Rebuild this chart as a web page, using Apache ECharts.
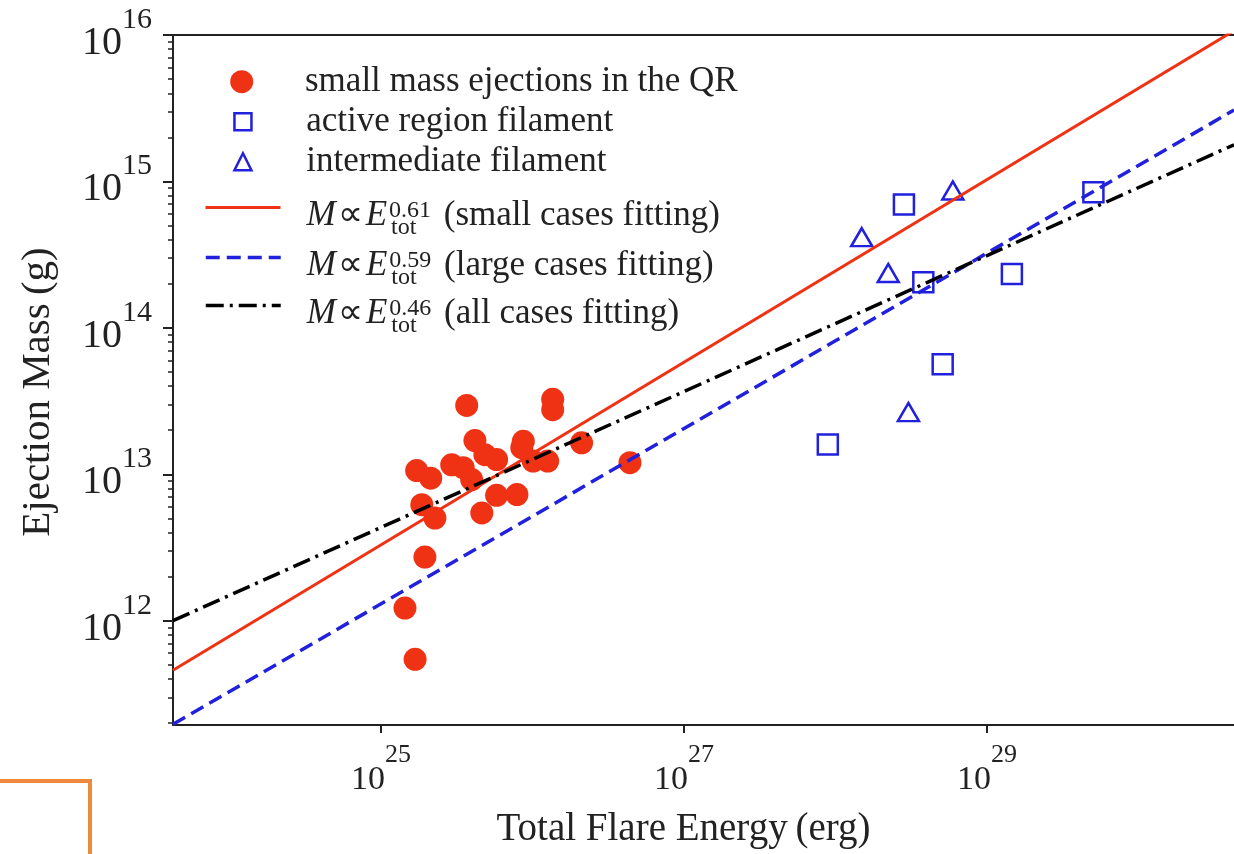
<!DOCTYPE html>
<html>
<head>
<meta charset="utf-8">
<title>Ejection mass vs total flare energy</title>
<script src="https://cdn.jsdelivr.net/npm/echarts@6/dist/echarts.min.js"></script>
<style>
  html, body { margin: 0; padding: 0; background: #fff; }
  #main { width: 1234px; height: 854px; }
</style>
</head>
<body>
<div id="main"></div>
<script>
const SERIF = "'Liberation Serif', 'Times New Roman', serif";
const RED = '#f03214';
const BLUE = '#2020dd';
const INK = '#222';

// small mass ejections in the quiet region: energy (erg), mass (g)
const smallEnergy = [1.72e25, 2.13e25, 2.93e25, 3.49e25, 3.68e25, 3.97e25, 4.17e25, 4.85e25, 5.8e25,
  8.7e25, 8.5e25, 1.01e26, 1.26e26, 1.36e26, 1.36e26, 2.11e26, 4.4e26, 1.86e25, 2.27e25, 5.8e25,
  7.9e25, 4.63e25, 1.95e25, 1.44e25, 1.68e25];
const smallMass = [1.06e13, 9.4e12, 1.16e13, 1.11e13, 2.95e13, 9.2e12, 1.70e13, 1.36e13, 1.26e13,
  1.68e13, 1.52e13, 1.23e13, 1.23e13, 3.25e13, 2.76e13, 1.64e13, 1.20e13, 6.2e12, 5.02e12, 7.18e12,
  7.27e12, 5.45e12, 2.72e12, 1.22e12, 5.45e11];

// active region filaments
const arEnergy = [2.83e28, 5.04e29, 3.80e28, 1.46e29, 5.1e28, 8.9e27];
const arMass = [6.95e14, 8.45e14, 2.05e14, 2.33e14, 5.64e13, 1.60e13];

// intermediate filaments
const imEnergy = [5.95e28, 1.49e28, 2.23e28, 3.03e28];
const imMass = [8.67e14, 4.16e14, 2.37e14, 2.66e13];

// fitted power laws, end points across the plotted range
const fitEnergy = [4.24e23, 4.27e30];
const fitSmallMass = [4.59e11, 1.07e16];
const fitLargeMass = [1.96e11, 3.07e15];
const fitAllMass = [1.0e12, 1.78e15];

const xRange = [4.24e23, 4.27e30];
const yRange = [1.94e11, 1e16];
const xTickPowers = [25, 27, 29];
const yTickPowers = [12, 13, 14, 15, 16];

const names = [
  'small mass ejections in the QR',
  'active region filament',
  'intermediate filament',
  'fit small',
  'fit large',
  'fit all'
];
const fitLabels = {
  'fit small': ['0.61', 'small cases fitting'],
  'fit large': ['0.59', 'large cases fitting'],
  'fit all': ['0.46', 'all cases fitting']
};

const lg = Math.log10;
const pairs = (xs, ys) => xs.map((x, i) => [lg(x), lg(ys[i])]);

const xMin = lg(xRange[0]), xMax = lg(xRange[1]);
const yMin = lg(yRange[0]), yMax = lg(yRange[1]);

const yMinor = [];
for (let p = Math.floor(yMin); p < yMax; p++) {
  for (let k = 2; k <= 9; k++) {
    const v = p + lg(k);
    if (v >= yMin && v <= yMax) yMinor.push(v);
  }
}

const powLabel = v => '{b|10}{s|' + v + '}';

const dom = document.getElementById('main');
const myChart = echarts.init(dom);

const hollow = { color: 'rgba(255,255,255,0)', borderColor: BLUE, borderWidth: 2.5, opacity: 1 };

const fitRich = {
  n: { fontFamily: SERIF, fontSize: 35, lineHeight: 36, color: INK, verticalAlign: 'middle' },
  p: { fontFamily: SERIF, fontSize: 35, lineHeight: 36, color: INK, verticalAlign: 'middle', padding: [0, 3, 0, 2] },
  i: { fontFamily: SERIF, fontSize: 35, lineHeight: 36, color: INK, fontStyle: 'italic', verticalAlign: 'middle' },
  sup: { fontFamily: SERIF, fontSize: 24, lineHeight: 24, color: INK, width: 0, padding: [0, 0, 9, 2], verticalAlign: 'middle' },
  sub: { fontFamily: SERIF, fontSize: 24, lineHeight: 24, color: INK, width: 44, padding: [25, 0, 0, 2], verticalAlign: 'middle' }
};

// one legend per entry so that each marker keeps its own size and row
function markerLegend(name, centerY, size, itemStyle) {
  return {
    data: [name],
    left: 241.7 - size / 2,
    top: centerY - 18,
    padding: 0,
    itemWidth: size,
    itemHeight: size,
    selectedMode: false,
    itemStyle: itemStyle,
    textStyle: {
      fontFamily: SERIF, fontSize: 35, lineHeight: 36, color: INK,
      padding: [0, 0, 0, 305 - (241.7 + size / 2) - 5]
    }
  };
}

function fitLegend(name, lineY, lineStyle) {
  return {
    data: [name],
    left: 204,
    top: lineY - 14,
    padding: 0,
    itemWidth: 75,
    itemHeight: 4,
    selectedMode: false,
    itemStyle: { color: 'rgba(0,0,0,0)', borderWidth: 0 },
    lineStyle: lineStyle,
    formatter: n => '{i|M}{p|\u221d}{i|E}{sup|' + fitLabels[n][0] + '}{sub|tot}{n| (' + fitLabels[n][1] + ')}',
    textStyle: { fontFamily: SERIF, fontSize: 35, color: INK, padding: [16, 0, 0, 21], rich: fitRich }
  };
}

const redLine = { color: RED, width: 3, type: 'solid' };
const blueLine = { color: BLUE, width: 3.5, type: [14, 7] };
const blackLine = { color: '#000', width: 3.5, type: [18, 6, 3, 6] };

let option = {
  animation: false,
  backgroundColor: '#fff',
  textStyle: { fontFamily: SERIF },
  grid: { left: 173, right: 0, top: 35, bottom: 129, outerBoundsMode: 'none' },
  xAxis: [
    {
      type: 'value', min: xMin, max: xMax, position: 'bottom',
      name: 'Total Flare Energy\u2009(erg)',
      nameLocation: 'middle', nameGap: 83, nameMoveOverlap: false,
      nameTextStyle: { fontFamily: SERIF, fontSize: 39, lineHeight: 44, color: INK, padding: [0, 40, 0, 0] },
      axisLine: { show: true, lineStyle: { color: INK, width: 2 } },
      axisTick: { show: true, customValues: xTickPowers, length: 8, lineStyle: { color: INK, width: 2 } },
      axisLabel: {
        customValues: xTickPowers, margin: 38, formatter: powLabel,
        rich: {
          b: { fontFamily: SERIF, fontSize: 34, lineHeight: 34, color: INK, verticalAlign: 'middle' },
          s: { fontFamily: SERIF, fontSize: 26, lineHeight: 26, color: INK, padding: [0, 0, 49, 0], verticalAlign: 'middle' }
        }
      },
      splitLine: { show: false }
    },
    {
      type: 'value', min: xMin, max: xMax, position: 'top',
      axisLine: { show: true, lineStyle: { color: INK, width: 2 } },
      axisTick: { show: false }, axisLabel: { show: false }, splitLine: { show: false }
    }
  ],
  yAxis: [
    {
      type: 'value', min: yMin, max: yMax, position: 'left',
      name: 'Ejection Mass\u2009(g)',
      nameLocation: 'middle', nameGap: 112, nameMoveOverlap: false,
      nameTextStyle: { fontFamily: SERIF, fontSize: 41, lineHeight: 46, color: INK, padding: [0, 24, 0, 0] },
      axisLine: { show: true, lineStyle: { color: INK, width: 2 } },
      axisTick: { show: true, customValues: yTickPowers, length: 10, lineStyle: { color: INK, width: 2 } },
      axisLabel: {
        customValues: yTickPowers, margin: 21, formatter: powLabel, padding: [17, 0, 0, 0],
        rich: {
          b: { fontFamily: SERIF, fontSize: 40, lineHeight: 40, color: INK, verticalAlign: 'middle' },
          s: { fontFamily: SERIF, fontSize: 30, lineHeight: 30, color: INK, padding: [0, 0, 47, 0], verticalAlign: 'middle' }
        }
      },
      splitLine: { show: false }
    },
    {
      type: 'value', min: yMin, max: yMax, position: 'left',
      axisLine: { show: false },
      axisTick: { show: true, customValues: yMinor, length: 5, lineStyle: { color: INK, width: 1.5 } },
      axisLabel: { show: false }, splitLine: { show: false }
    }
  ],
  legend: [
    markerLegend(names[0], 81.7, 23, { color: RED, opacity: 1 }),
    markerLegend(names[1], 121.7, 17, hollow),
    markerLegend(names[2], 161.7, 17, hollow),
    fitLegend(names[3], 205, redLine),
    fitLegend(names[4], 255, blueLine),
    fitLegend(names[5], 303, blackLine)
  ],
  series: [
    {
      name: names[0], type: 'scatter', symbol: 'circle', symbolSize: 23,
      itemStyle: { color: RED, opacity: 1 }, data: pairs(smallEnergy, smallMass)
    },
    {
      name: names[1], type: 'scatter', symbol: 'rect', symbolSize: 20,
      itemStyle: hollow, data: pairs(arEnergy, arMass)
    },
    {
      name: names[2], type: 'scatter', symbol: 'triangle', symbolSize: [21, 18],
      itemStyle: hollow, data: pairs(imEnergy, imMass)
    },
    {
      name: names[3], type: 'line', symbol: 'none', showSymbol: false, color: RED,
      lineStyle: redLine, data: pairs(fitEnergy, fitSmallMass)
    },
    {
      name: names[4], type: 'line', symbol: 'none', showSymbol: false, color: BLUE,
      lineStyle: blueLine, data: pairs(fitEnergy, fitLargeMass)
    },
    {
      name: names[5], type: 'line', symbol: 'none', showSymbol: false, color: '#000',
      lineStyle: blackLine, data: pairs(fitEnergy, fitAllMass)
    }
  ],
  graphic: [
    {
      type: 'polyline',
      shape: { points: [[0, 781], [90, 781], [90, 856]] },
      style: { stroke: '#ef8a3c', lineWidth: 4, fill: null }
    }
  ]
};

if (option && typeof option === 'object') {
  myChart.setOption(option, true);
}
</script>
</body>
</html>
